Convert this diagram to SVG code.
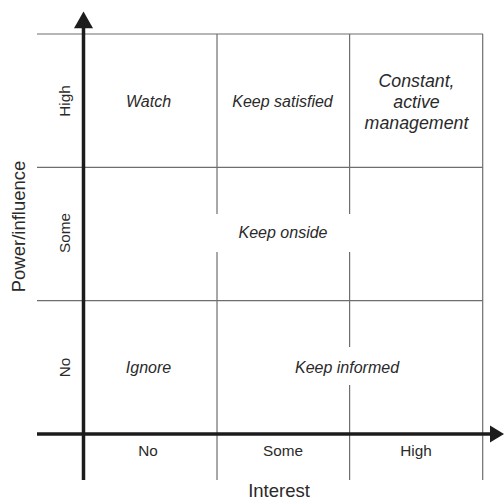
<svg xmlns="http://www.w3.org/2000/svg" width="504" height="501" viewBox="0 0 504 501">
<style>
.grid{stroke:#6e6e6e;stroke-width:1.2;fill:none}
.axis{stroke:#1c1c1c;stroke-width:3.5;fill:none}
.head{fill:#1c1c1c}
text{font-family:"Liberation Sans",Arial,sans-serif;fill:#2a2a2a;text-anchor:middle}
.cell{font-size:16px;font-style:italic}
.big{font-size:17.8px;font-style:italic}
.lab{font-size:15.3px}
.title{font-size:18.5px}
</style>
<rect width="504" height="501" fill="#fff"/>
<g id="connectors">
<g id="grid">
<line class="grid" x1="37" y1="34" x2="483" y2="34"/>
<line class="grid" x1="37" y1="167.3" x2="483" y2="167.3"/>
<line class="grid" x1="37" y1="300.7" x2="483" y2="300.7"/>
<line class="grid" x1="482.7" y1="34" x2="482.7" y2="480"/>
<line class="grid" x1="217" y1="34" x2="217" y2="214"/>
<line class="grid" x1="217" y1="252" x2="217" y2="480"/>
<line class="grid" x1="349.6" y1="34" x2="349.6" y2="214"/>
<line class="grid" x1="349.6" y1="252" x2="349.6" y2="347"/>
<line class="grid" x1="349.6" y1="385" x2="349.6" y2="480"/>
</g>
<g id="y-axis">
<line class="axis" x1="83.5" y1="26" x2="83.5" y2="480"/>
<polygon class="head" points="83.5,11.5 74,28.3 93,28.3"/>
</g>
<g id="x-axis">
<line class="axis" x1="37" y1="434" x2="492" y2="434"/>
<polygon class="head" points="504,434 490,425.5 490,442.5"/>
</g>
</g>
<g id="cell-watch"><text class="cell" x="148.5" y="107">Watch</text></g>
<g id="cell-keep-satisfied"><text class="cell" x="282.5" y="107">Keep satisfied</text></g>
<g id="cell-constant"><text class="big" x="416.5" y="86.5">Constant,</text><text class="big" x="416.5" y="107.5">active</text><text class="big" x="416.5" y="128.5">management</text></g>
<g id="cell-keep-onside"><text class="cell" x="283" y="238">Keep onside</text></g>
<g id="cell-ignore"><text class="cell" x="148.5" y="372.5">Ignore</text></g>
<g id="cell-keep-informed"><text class="cell" x="347" y="372.5">Keep informed</text></g>
<g id="x-labels">
<text class="lab" x="148" y="455.5">No</text>
<text class="lab" x="283" y="455.5">Some</text>
<text class="lab" x="416" y="455.5">High</text>
</g>
<g id="y-labels">
<text class="lab" transform="translate(70,101) rotate(-90)">High</text>
<text class="lab" transform="translate(70,233) rotate(-90)">Some</text>
<text class="lab" transform="translate(70,367.5) rotate(-90)">No</text>
</g>
<g id="x-title"><text class="title" x="279" y="497">Interest</text></g>
<g id="y-title"><text class="title" transform="translate(24.5,226.5) rotate(-90)">Power/influence</text></g>
</svg>
